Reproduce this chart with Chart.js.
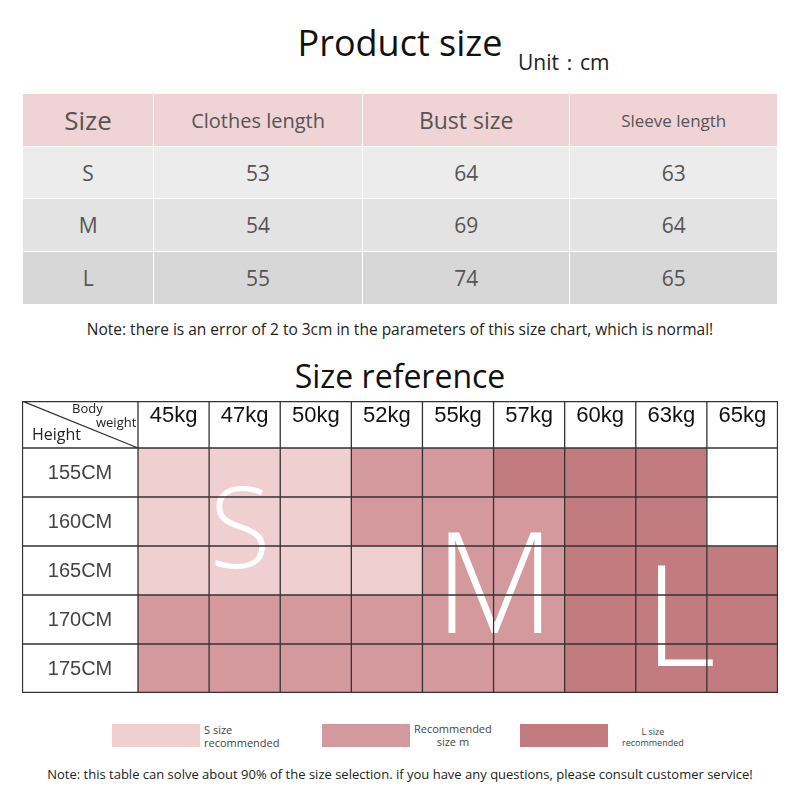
<!DOCTYPE html>
<html>
<head>
<meta charset="utf-8">
<script src="https://cdn.jsdelivr.net/npm/chart.js@4"></script>
<style>
  body { margin: 0; width: 800px; height: 800px; background: #fff; font-family: "Open Sans", "Noto Sans", sans-serif; position: relative; overflow: hidden; }
  .abs { position: absolute; }
  #title { left: 0; width: 800px; top: 18px; text-align: center; font-size: 36px; color: #111; }
  #unit { left: 518px; top: 48px; font-size: 21px; color: #222; }
  table { position: absolute; left: 22px; top: 93px; width: 756px; border-collapse: collapse; color: #555; }
  td { border: 1.5px solid #fff; text-align: center; font-size: 21px; padding: 0; }
  tr.head td { background: #f0d3d5; height: 52px; }
  #note1 { left: 0; width: 800px; top: 318px; text-align: center; font-size: 15.5px; color: #222; }
  #title2 { left: 0; width: 800px; top: 354px; text-align: center; font-size: 32px; color: #111; }
  #wrap { left: 22px; top: 401px; width: 756px; height: 292px; }
  .leg { width: 88px; height: 23px; top: 724px; }
  .legt { font-size: 11px; color: #444; line-height: 13px; }
  #note2 { left: 0; width: 800px; top: 765px; text-align: center; font-size: 13px; color: #222; }
</style>
</head>
<body>
<div id="title" class="abs">Product size</div>
<div id="unit" class="abs">Unit：cm</div>
<table id="sizeTable"></table>
<div id="note1" class="abs">Note: there is an error of 2 to 3cm in the parameters of this size chart, which is normal!</div>
<div id="title2" class="abs">Size reference</div>
<div id="wrap" class="abs"><canvas id="grid" width="756" height="292"></canvas></div>

<div class="abs leg" style="left:112px;background:#efcfcf"></div>
<div class="abs legt" style="left:204px;top:723px">S size<br>recommended</div>
<div class="abs leg" style="left:322px;background:#d4999c"></div>
<div class="abs legt" style="left:414px;top:722px;text-align:center">Recommended<br>size m</div>
<div class="abs leg" style="left:520px;background:#c27c80"></div>
<div class="abs legt" style="left:622px;top:726px;font-size:9px;line-height:11px;text-align:center">L size<br>recommended</div>
<div id="note2" class="abs">Note: this table can solve about 90% of the size selection. if you have any questions, please consult customer service!</div>

<script>
// Product size table
const sizeHeaders = ['Size', 'Clothes length', 'Bust size', 'Sleeve length'];
const sizes = ['S', 'M', 'L'];
const clothesLength = [53, 54, 55];
const bustSize = [64, 69, 74];
const sleeveLength = [63, 64, 65];

// Size reference grid
const weights = ['45kg', '47kg', '50kg', '52kg', '55kg', '57kg', '60kg', '63kg', '65kg'];
const heights = ['155CM', '160CM', '165CM', '170CM', '175CM'];
// 0 = none, 1 = S, 2 = M, 3 = L
const row155 = [1, 1, 1, 2, 2, 3, 3, 3, 0];
const row160 = [1, 1, 1, 2, 2, 2, 3, 3, 0];
const row165 = [1, 1, 1, 1, 2, 2, 3, 3, 3];
const row170 = [2, 2, 2, 2, 2, 2, 3, 3, 3];
const row175 = [2, 2, 2, 2, 2, 2, 3, 3, 3];
const sizeRows = [row155, row160, row165, row170, row175];

const cellColors = ['#ffffff', '#efcfcf', '#d4999c', '#c27c80'];

// Build the top table
const sizeTable = document.getElementById('sizeTable');
const rowBg = ['#ececec', '#e3e3e3', '#d7d7d7'];
const colW = [131, 209, 208, 208];
let html = '<tr class="head">' + sizeHeaders.map((h, i) => {
    const fs = i === 0 ? 26 : i === 3 ? 17 : i === 2 ? 23 : 20;
    return `<td style="width:${colW[i]}px;font-size:${fs}px">${h}</td>`;
}).join('') + '</tr>';
sizes.forEach((s, i) => {
    const h = i === 0 ? 52 : 53;
    html += `<tr style="background:${rowBg[i]};height:${h}px"><td>${s}</td><td>${clothesLength[i]}</td><td>${bustSize[i]}</td><td>${sleeveLength[i]}</td></tr>`;
});
sizeTable.innerHTML = html;

// Grid lines, row labels, diagonal and the big letters
const gridDecor = {
    id: 'gridDecor',
    afterDatasetsDraw(chart) {
        const ctx = chart.ctx;
        const a = chart.chartArea;
        const cw = (a.right - a.left) / weights.length;
        const rh = (a.bottom - a.top) / heights.length;
        ctx.save();
        // big letters
        ctx.fillStyle = '#fff';
        ctx.textAlign = 'center';
        ctx.textBaseline = 'alphabetic';
        ctx.font = '300 112px "Open Sans", sans-serif';
        ctx.fillText('S', 218, 167);
        ctx.font = '300 140px "Open Sans", sans-serif';
        ctx.fillText('M', 473, 232);
        ctx.fillText('L', 658, 265);
        // lines
        ctx.strokeStyle = '#333';
        ctx.lineWidth = 1.3;
        ctx.beginPath();
        for (let i = 0; i <= weights.length; i++) {
            const x = a.left + i * cw;
            ctx.moveTo(x, 0); ctx.lineTo(x, a.bottom);
        }
        for (let j = 0; j <= heights.length; j++) {
            const y = a.top + j * rh;
            ctx.moveTo(0, y); ctx.lineTo(a.right, y);
        }
        ctx.rect(0.5, 0.5, chart.width - 1, chart.height - 1);
        ctx.moveTo(0, 0); ctx.lineTo(a.left, a.top);
        ctx.stroke();
        // row labels
        ctx.fillStyle = '#444';
        ctx.textAlign = 'center';
        ctx.textBaseline = 'middle';
        ctx.font = '20px "Liberation Sans", sans-serif';
        heights.forEach((h, j) => ctx.fillText(h, a.left / 2, a.top + (j + 0.5) * rh + 1));
        ctx.fillStyle = '#222';
        ctx.textBaseline = 'alphabetic';
        ctx.font = '13px "Open Sans", sans-serif';
        ctx.textAlign = 'left';
        ctx.fillText('Body', 50, 12);
        ctx.fillText('weight', 74, 26);
        ctx.font = '16px "Open Sans", sans-serif';
        ctx.fillText('Height', 10, 39);
        ctx.restore();
    }
};

new Chart(document.getElementById('grid'), {
    type: 'bar',
    data: {
        labels: weights,
        datasets: sizeRows.map((row, r) => ({
            label: heights[r],
            data: row.map(() => [r, r + 1]),
            backgroundColor: row.map(c => cellColors[c]),
            borderWidth: 0,
            barPercentage: 1,
            categoryPercentage: 1,
            grouped: false,
            yAxisID: 'y'
        }))
    },
    options: {
        responsive: false,
        animation: false,
        layout: { padding: { left: 116, top: 0, right: 0, bottom: 0 } },
        plugins: { legend: { display: false }, tooltip: { enabled: false } },
        scales: {
            x: {
                position: 'top',
                afterFit: s => { s.height = 47; },
                grid: { display: false },
                border: { display: false },
                ticks: { color: '#111', font: { size: 22, family: 'Liberation Sans' }, padding: 11, maxRotation: 0 }
            },
            y: { display: false, min: 0, max: 5, reverse: true }
        }
    },
    plugins: [gridDecor]
});
</script>
</body>
</html>
